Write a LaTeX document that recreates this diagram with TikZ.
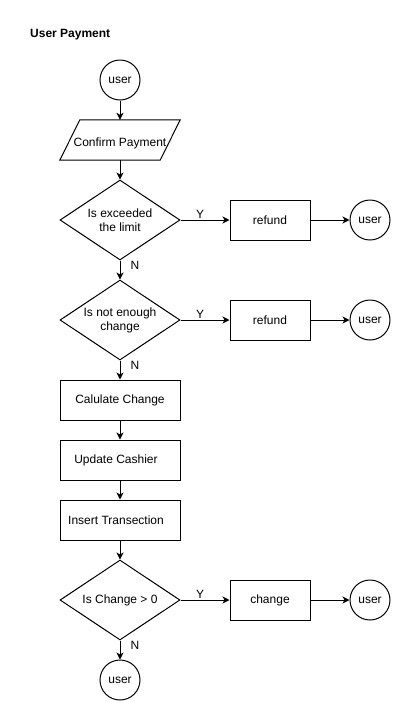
\documentclass[tikz,border=0pt]{standalone}
\usepackage{fontspec}
\setmainfont{Liberation Sans}
\usetikzlibrary{shapes.geometric,arrows.meta,calc}
\tikzset{
  every node/.style={font=\fontsize{12}{14}\selectfont},
  flow/.style={line width=1pt,-{Stealth[length=7pt,width=7pt,inset=2pt]}},
  term/.style={circle,draw,line width=1pt,minimum size=40pt,inner sep=0pt},
  proc/.style={rectangle,draw,line width=1pt,minimum width=120pt,minimum height=40pt,inner sep=0pt},
  small/.style={rectangle,draw,line width=1pt,minimum width=80pt,minimum height=40pt,inner sep=0pt},
  dec/.style={diamond,draw,line width=1pt,minimum width=120pt,minimum height=80pt,aspect=1.5,inner sep=0pt,align=center},
  io/.style={rectangle,minimum width=120pt,minimum height=40pt,inner sep=0pt,text height=13pt,text depth=0pt},
  lbl/.style={inner sep=1pt,font=\fontsize{12}{14}\selectfont},
}
\begin{document}
\begin{tikzpicture}[x=1pt,y=-1pt]
\useasboundingbox (0,0) rectangle (411,721);
\node[anchor=west,inner sep=0pt,font=\bfseries\fontsize{12}{14}\selectfont] (title) at (30,35) {User Payment};

\node[term] (u0) at (120,80) {user};
\node[io] (conf) at (120,140) {Confirm Payment};
\draw[line width=1pt] ($(conf.north west)+(20,0)$) -- (conf.north east) -- ($(conf.south east)+(-20,0)$) -- (conf.south west) -- cycle;
\node[dec] (d1) at (120,220) {Is exceeded\\the limit};
\node[small] (r1) at (270,220) {refund};
\node[term] (u1) at (370,220) {user};
\node[dec] (d2) at (120,320) {Is not enough\\change};
\node[small] (r2) at (270,320) {refund};
\node[term] (u2) at (370,320) {user};
\node[proc] (calc) at (120,400) {Calulate Change};
\node[proc] (upd) at (120,460) {\hspace*{-8pt}Update Cashier};
\node[proc] (ins) at (120,520) {\hspace*{-8pt}Insert Transection};
\node[dec] (d3) at (120,600) {Is Change > 0};
\node[small] (ch) at (270,600) {change};
\node[term] (u3) at (370,600) {user};
\node[term] (u4) at (120,680) {user};

\draw[flow] (u0) -- (conf);
\draw[flow] (conf) -- (d1);
\draw[flow] (d1) -- node[lbl,pos=0.4,anchor=south] (y1) {Y} (r1);
\draw[flow] (r1) -- (u1);
\draw[flow] (d1) -- node[lbl,pos=0.25,anchor=west,xshift=9pt] (n1) {N} (d2);
\draw[flow] (d2) -- node[lbl,pos=0.4,anchor=south] (y2) {Y} (r2);
\draw[flow] (r2) -- (u2);
\draw[flow] (d2) -- node[lbl,pos=0.25,anchor=west,xshift=9pt] (n2) {N} (calc);
\draw[flow] (calc) -- (upd);
\draw[flow] (upd) -- (ins);
\draw[flow] (ins) -- (d3);
\draw[flow] (d3) -- node[lbl,pos=0.4,anchor=south] (y3) {Y} (ch);
\draw[flow] (ch) -- (u3);
\draw[flow] (d3) -- node[lbl,pos=0.25,anchor=west,xshift=9pt] (n3) {N} (u4);
\end{tikzpicture}
\end{document}
